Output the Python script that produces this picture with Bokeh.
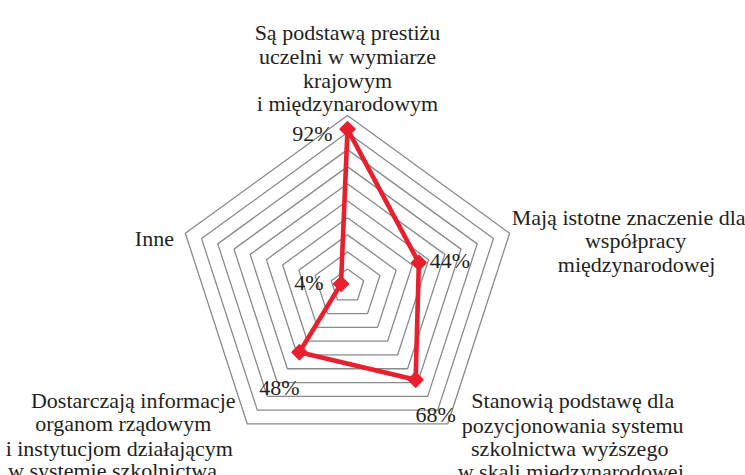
import math
from bokeh.plotting import figure
from bokeh.models import ColumnDataSource, Range1d
from bokeh.embed import file_html
from bokeh.resources import INLINE

# ---- data ----
categories = [
    "Są podstawą prestiżu uczelni w wymiarze krajowym i międzynarodowym",
    "Mają istotne znaczenie dla współpracy międzynarodowej",
    "Stanowią podstawę dla pozycjonowania systemu szkolnictwa wyższego w skali międzynarodowej",
    "Dostarczają informacje organom rządowym i instytucjom działającym w systemie  szkolnictwa…",
    "Inne",
]
category_lines = [
    ["Są podstawą prestiżu", "uczelni w wymiarze", "krajowym", "i międzynarodowym"],
    ["Mają istotne znaczenie dla", "współpracy", "międzynarodowej"],
    ["Stanowią podstawę dla", "pozycjonowania systemu", "szkolnictwa wyższego", "w skali międzynarodowej"],
    ["Dostarczają informacje", "organom rządowym", "i instytucjom działającym", "w systemie  szkolnictwa…"],
    ["Inne"],
]
values = [92, 44, 68, 48, 4]
value_labels = ["92%", "44%", "68%", "48%", "4%"]
grid_levels = [10, 20, 30, 40, 50, 60, 70, 80, 90, 100]

# ---- layout ----
W, H = 745, 475
PX = 1.705           # pixels per percent unit
CX, CY = 347, 285.5  # center in figure pixels (from top-left)
RED = "#e8202e"
GRID = "#8a8a8a"
TXT = "#231f20"
FONT_NAME = "Times"
FS = "22px"

n = len(values)
ang = [math.pi / 2 - 2 * math.pi * i / n for i in range(n)]

p = figure(width=W, height=H, output_backend="svg", toolbar_location=None,
           x_range=Range1d(-CX / PX, (W - CX) / PX),
           y_range=Range1d(-(H - CY) / PX, CY / PX),
           min_border=0, outline_line_color=None, background_fill_color="white",
           border_fill_color="white")
p.axis.visible = False
p.xgrid.visible = False
p.ygrid.visible = False

# pentagon grid
gx, gy = [], []
for r in grid_levels:
    gx.append([r * math.cos(a) for a in ang] + [r * math.cos(ang[0])])
    gy.append([r * math.sin(a) for a in ang] + [r * math.sin(ang[0])])
p.multi_line(gx, gy, line_color=GRID, line_width=1.3)

# data series
xs = [v * math.cos(a) for v, a in zip(values, ang)]
ys = [v * math.sin(a) for v, a in zip(values, ang)]
p.line(xs + [xs[0]], ys + [ys[0]], line_color=RED, line_width=4.6, line_join="miter")
p.scatter(xs, ys, marker="square", size=10.5, angle=math.pi / 4,
          fill_color=RED, line_color=RED, line_width=1.5)

# value labels (alphabetic baseline offsets in px)
vl_dx = [-35, 31, 20, -20, -32]
vl_dy = [4, -2, 35, 35, -1]
vsrc = ColumnDataSource(dict(x=xs, y=ys, text=value_labels, dx=vl_dx, dy=vl_dy,
                             f=[FONT_NAME] * n))
p.text(x="x", y="y", text="text", x_offset="dx", y_offset="dy", source=vsrc,
       text_font="f", text_font_size=FS, text_color=TXT,
       text_align="center", text_baseline="alphabetic")

# category labels (one text per line, anchored at axis vertex)
cat_offsets = [
    [(0, -83), (0, -59), (0, -35), (0, -12)],
    [(119, -16), (126, 7), (127, 31)],
    [(125, -23), (125, 2), (122, 25), (123, 48)],
    [(-114, -23), (-124, 0), (-128, 25), (-121, 47)],
    [(-31, 5)],
]
lx, ly, lt, ldx, ldy = [], [], [], [], []
top = grid_levels[-1]
for i, lines in enumerate(category_lines):
    vx = top * math.cos(ang[i])
    vy = top * math.sin(ang[i])
    for line, (dx, dy) in zip(lines, cat_offsets[i]):
        lx.append(vx); ly.append(vy); lt.append(line); ldx.append(dx); ldy.append(dy)
src = ColumnDataSource(dict(x=lx, y=ly, text=lt, dx=ldx, dy=ldy, f=[FONT_NAME] * len(lt)))
p.text(x="x", y="y", text="text", x_offset="dx", y_offset="dy", source=src,
       text_font="f", text_font_size=FS, text_color=TXT,
       text_align="center", text_baseline="alphabetic")

open("out.html", "w").write(file_html(p, INLINE))
